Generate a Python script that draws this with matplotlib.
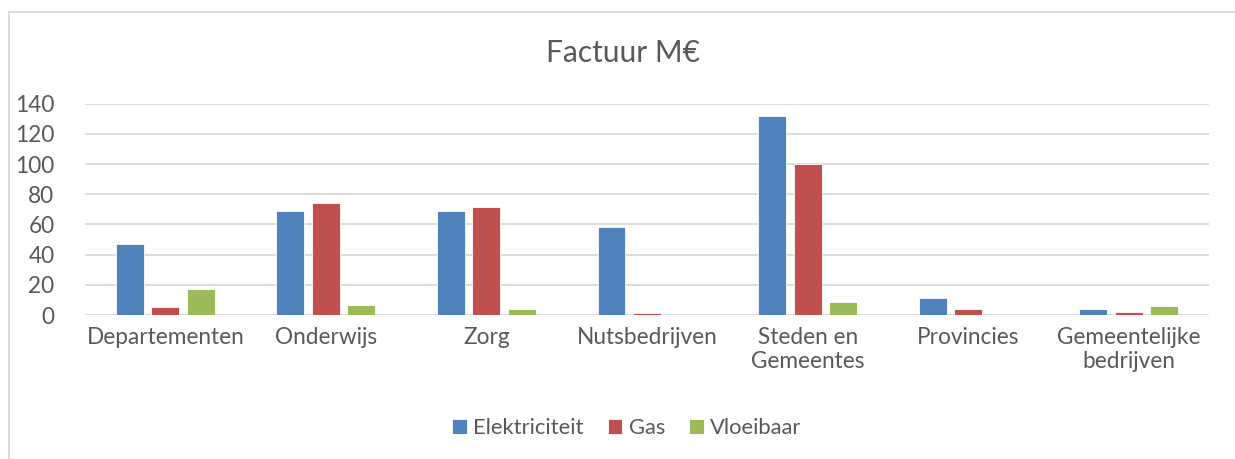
import matplotlib.pyplot as plt
import numpy as np

# categories and values (M€)
categories = ['Departementen', 'Onderwijs', 'Zorg', 'Nutsbedrijven',
              'Steden en\nGemeentes', 'Provincies', 'Gemeentelijke\nbedrijven']
elektriciteit = [47, 69, 69, 58, 132, 11, 4.2]
gas = [5.5, 74.5, 71.5, 1.3, 100.3, 4, 1.8]
vloeibaar = [17.5, 6.6, 4, 0, 8.6, 0, 6]
series_names = ['Elektriciteit', 'Gas', 'Vloeibaar']
yticks = [0, 20, 40, 60, 80, 100, 120, 140]

plt.rcParams['font.family'] = ['Lato', 'DejaVu Sans']
txt = '#595959'

fig = plt.figure(figsize=(12.35, 4.59), dpi=100)
ax = fig.add_axes([85 / 1235, 1 - 315 / 459, (1209 - 85) / 1235, (315 - 103.7) / 459])

x = np.arange(len(categories))
w = 0.174
step = 0.221
colors = ['#4F81BD', '#C0504D', '#9BBB59']
for i, (vals, c, name) in enumerate(zip([elektriciteit, gas, vloeibaar], colors, series_names)):
    ax.bar(x + (i - 1) * step, vals, w, color=c, edgecolor='white', linewidth=0.6, label=name, zorder=3)

ax.set_xlim(-0.5, len(categories) - 0.5)
ax.set_ylim(0, 140)
ax.set_yticks(yticks)
ax.set_xticks(x)
ax.set_xticklabels(categories, linespacing=1.15)
ax.grid(axis='y', color='#d9d9d9', linewidth=1.3, zorder=0)
for s in ax.spines.values():
    s.set_visible(False)
ax.tick_params(axis='both', length=0, labelsize=16.3, colors=txt)
ax.tick_params(axis='y', pad=22)
ax.tick_params(axis='x', pad=9)

fig.text(623 / 1235, 1 - 53 / 459, 'Factuur M€', ha='center', va='center', fontsize=21.5, color=txt)

leg = fig.legend(loc='center', bbox_to_anchor=(627 / 1235, 1 - 428 / 459), ncol=3, frameon=False,
                 fontsize=15.8, handlelength=0.65, handleheight=0.65, handletextpad=0.3, columnspacing=1.1)
for t in leg.get_texts():
    t.set_color(txt)

# chart border
fig.add_artist(plt.Line2D([9 / 1235, 9 / 1235], [0, 1 - 12 / 459], color='#d9d9d9', linewidth=1.3))
fig.add_artist(plt.Line2D([9 / 1235, 1], [1 - 12 / 459, 1 - 12 / 459], color='#d9d9d9', linewidth=1.3))

fig.savefig('out.png', dpi=100)
